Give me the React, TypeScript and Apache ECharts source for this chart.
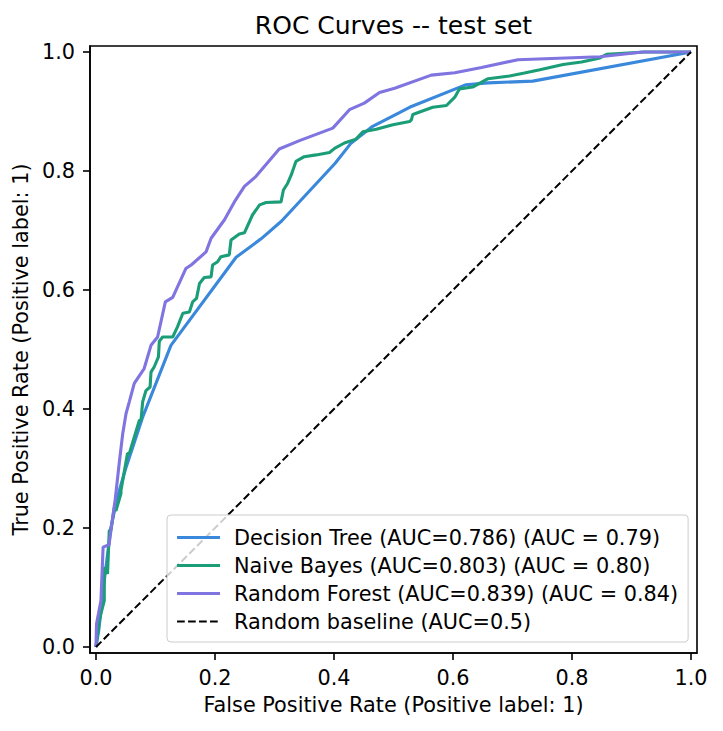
import React, { useEffect, useRef } from "react";
import * as echarts from "echarts";

const TITLE = "ROC Curves -- test set";
const X_NAME = "False Positive Rate (Positive label: 1)";
const Y_NAME = "True Positive Rate (Positive label: 1)";
const TICKS = [0, 0.2, 0.4, 0.6, 0.8, 1.0];

const SERIES_NAMES = [
  "Decision Tree (AUC=0.786) (AUC = 0.79)",
  "Naive Bayes (AUC=0.803) (AUC = 0.80)",
  "Random Forest (AUC=0.839) (AUC = 0.84)",
  "Random baseline (AUC=0.5)",
];
const COLORS = ["#3a88dc", "#1b9e77", "#7f74e0", "#000000"];

const decisionTree: number[][] = [
  [0, 0], [0.005, 0.03], [0.015, 0.12], [0.025, 0.2], [0.036, 0.252], [0.05, 0.3],
  [0.078, 0.385], [0.126, 0.507], [0.2355, 0.655], [0.2775, 0.686], [0.312, 0.716],
  [0.402, 0.813], [0.428, 0.846], [0.465, 0.875], [0.51, 0.898], [0.527, 0.907],
  [0.622, 0.945], [0.659, 0.948], [0.734, 0.951], [1, 1],
];

const naiveBayes: number[][] = [
  [0, 0], [0.0055, 0.044], [0.0084, 0.056], [0.014, 0.078], [0.014, 0.134],
  [0.0195, 0.123], [0.0224, 0.196], [0.025, 0.196], [0.031, 0.235], [0.0336, 0.229],
  [0.042, 0.258], [0.042, 0.263], [0.053, 0.325], [0.056, 0.325], [0.0645, 0.353],
  [0.073, 0.381], [0.0757, 0.381], [0.0785, 0.412], [0.084, 0.431], [0.091, 0.437],
  [0.0925, 0.462], [0.098, 0.471], [0.105, 0.4875], [0.1065, 0.514], [0.112, 0.521],
  [0.129, 0.521], [0.137, 0.538], [0.146, 0.561], [0.157, 0.563], [0.1625, 0.58],
  [0.169, 0.586], [0.174, 0.611], [0.182, 0.621], [0.1935, 0.622], [0.196, 0.642],
  [0.2045, 0.6475], [0.21, 0.656], [0.224, 0.659], [0.227, 0.684], [0.241, 0.694],
  [0.2495, 0.696], [0.263, 0.726], [0.275, 0.743], [0.286, 0.747], [0.311, 0.748],
  [0.315, 0.768], [0.322, 0.779], [0.328, 0.793], [0.336, 0.816], [0.35, 0.824],
  [0.37, 0.827], [0.3925, 0.831], [0.401, 0.838], [0.4175, 0.847], [0.437, 0.8535],
  [0.4485, 0.866], [0.471, 0.87], [0.499, 0.8775], [0.527, 0.883], [0.53, 0.886],
  [0.5325, 0.895], [0.552, 0.902], [0.566, 0.907], [0.589, 0.91], [0.603, 0.924],
  [0.611, 0.938], [0.633, 0.941], [0.659, 0.955], [0.695, 0.9596], [0.72, 0.9646],
  [0.746, 0.97], [0.785, 0.979], [0.816, 0.983], [0.847, 0.99], [0.858, 0.996],
  [0.922, 1.0], [1, 1],
];

const randomForest: number[][] = [
  [0, 0], [0.001, 0.039], [0.0084, 0.078], [0.012, 0.168], [0.022, 0.172],
  [0.029, 0.224], [0.0325, 0.249], [0.039, 0.308], [0.045, 0.3586], [0.0505, 0.392],
  [0.056, 0.412], [0.0644, 0.443], [0.081, 0.468], [0.0925, 0.507], [0.1036, 0.521],
  [0.1166, 0.58], [0.129, 0.5875], [0.151, 0.636], [0.16, 0.642], [0.185, 0.664],
  [0.1935, 0.687], [0.216, 0.718], [0.2326, 0.748], [0.2495, 0.774], [0.269, 0.791],
  [0.308, 0.837], [0.342, 0.851], [0.398, 0.872], [0.426, 0.903], [0.451, 0.914],
  [0.4765, 0.932], [0.502, 0.939], [0.5635, 0.961], [0.603, 0.965], [0.648, 0.974],
  [0.709, 0.987], [0.847, 0.992], [0.919, 1.0], [1, 1],
];

const baseline: number[][] = [[0, 0], [1, 1]];

const FONT = "DejaVu Sans";

export default function App() {
  const ref = useRef<HTMLDivElement>(null);
  useEffect(() => {
    document.body.style.margin = "0";
    if (!ref.current) return;
    const chart = echarts.init(ref.current, null, { renderer: "svg" });
    const lineSeries = (name: string, data: number[][], color: string, extra: any = {}) => ({
      name,
      type: "line",
      data,
      symbol: "none",
      showSymbol: false,
      lineStyle: { color, width: 3.1, ...extra },
      itemStyle: { color },
      z: 2,
    });
    const axisCommon = {
      type: "value",
      min: -0.01,
      max: 1.01,
      splitLine: { show: false },
      axisLine: { show: true, onZero: false, lineStyle: { color: "#000", width: 1.6 } },
      axisTick: {
        show: true,
        inside: false,
        length: 7,
        customValues: TICKS,
        lineStyle: { color: "#000", width: 1.6 },
      },
      axisLabel: {
        customValues: TICKS,
        formatter: (v: number) => v.toFixed(1),
        color: "#000",
        fontFamily: FONT,
        fontSize: 20.8,
      },
      nameLocation: "middle",
      nameTextStyle: { color: "#000", fontFamily: FONT, fontSize: 20.8 },
    };
    chart.setOption({
      animation: false,
      backgroundColor: "#fff",
      grid: {
        left: 90,
        right: 26,
        top: 46,
        bottom: 78,
        show: true,
        borderColor: "#000",
        borderWidth: 1.6,
        backgroundColor: "transparent",
      },
      graphic: [
        {
          type: "text",
          x: 393.5,
          y: 25,
          style: {
            text: TITLE,
            textAlign: "center",
            textVerticalAlign: "middle",
            fontSize: 25,
            fontFamily: FONT,
            fill: "#000",
          },
        },
      ],
      xAxis: {
        ...axisCommon,
        name: X_NAME,
        nameGap: 41,
        axisLabel: { ...axisCommon.axisLabel, margin: 14 },
      },
      yAxis: {
        ...axisCommon,
        name: Y_NAME,
        nameGap: 55,
        nameRotate: 90,
        axisLabel: { ...axisCommon.axisLabel, margin: 15 },
      },
      legend: {
        orient: "vertical",
        left: 167,
        top: 515,
        itemWidth: 43,
        itemHeight: 20,
        itemGap: 7,
        padding: [12, 10, 10, 8.5],
        backgroundColor: "rgba(255,255,255,0.8)",
        borderColor: "#cccccc",
        borderWidth: 1,
        borderRadius: 4,
        selectedMode: false,
        itemStyle: { opacity: 0 },
        lineStyle: { width: 3.1 },
        textStyle: {
          color: "#000",
          fontFamily: FONT,
          fontSize: 20.8,
          padding: [0, 0, 0, 9],
        },
        data: [
          { name: SERIES_NAMES[0] },
          { name: SERIES_NAMES[1] },
          { name: SERIES_NAMES[2] },
          { name: SERIES_NAMES[3], lineStyle: { width: 2 } },
        ],
      },
      series: [
        lineSeries(SERIES_NAMES[0], decisionTree, COLORS[0]),
        lineSeries(SERIES_NAMES[1], naiveBayes, COLORS[1]),
        lineSeries(SERIES_NAMES[2], randomForest, COLORS[2]),
        lineSeries(SERIES_NAMES[3], baseline, COLORS[3], { width: 2, type: [7.7, 3.3] }),
      ],
    });
    return () => chart.dispose();
  }, []);
  return <div ref={ref} style={{ width: 723, height: 731 }} />;
}
